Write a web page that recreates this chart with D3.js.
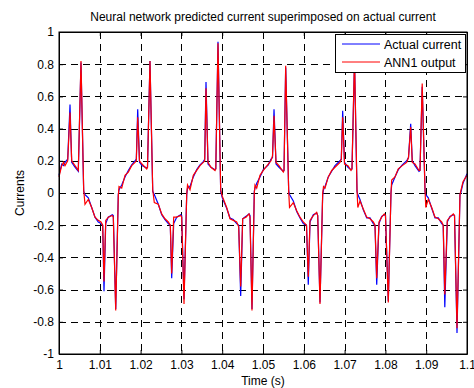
<!DOCTYPE html>
<html>
<head>
<meta charset="utf-8">
<script src="https://cdn.jsdelivr.net/npm/d3@7"></script>
<style>
  body { margin: 0; background: #fff; }
  svg text { font-family: "Liberation Sans", Arial, sans-serif; fill: #000; }
</style>
</head>
<body>
<svg id="chart" width="474" height="388"></svg>
<script>
// time (s), actual current, ANN1 output
const time = [
  1.00000, 1.00066, 1.00110, 1.00147, 1.00213, 1.00270, 1.00311, 1.00392, 1.00473, 1.00539,
  1.00605, 1.00637, 1.00718, 1.00801, 1.00882, 1.00963, 1.01029, 1.01071, 1.01103, 1.01145,
  1.01208, 1.01306, 1.01331, 1.01390, 1.01453,
  1.01471, 1.01537, 1.01618, 1.01699, 1.01782, 1.01863, 1.01895, 1.01929, 1.01973, 1.02034,
  1.02150, 1.02169, 1.02230, 1.02297, 1.02336, 1.02434, 1.02517, 1.02598, 1.02679, 1.02728,
  1.02762, 1.02811, 1.02885, 1.02983, 1.03007, 1.03064, 1.03130,
  1.03150, 1.03211, 1.03292, 1.03375, 1.03456, 1.03537, 1.03571, 1.03603, 1.03652, 1.03725,
  1.03824, 1.03843, 1.03897, 1.03963, 1.04002, 1.04110, 1.04191, 1.04272, 1.04355, 1.04404,
  1.04453, 1.04502, 1.04583, 1.04657, 1.04681, 1.04730, 1.04787,
  1.04804, 1.04846, 1.04926, 1.05007, 1.05130, 1.05196, 1.05233, 1.05270, 1.05319, 1.05392,
  1.05498, 1.05515, 1.05556, 1.05630, 1.05650, 1.05743, 1.05826, 1.05907, 1.05988, 1.06066,
  1.06110, 1.06152, 1.06233, 1.06316, 1.06341, 1.06397, 1.06463,
  1.06483, 1.06520, 1.06600, 1.06684, 1.06765, 1.06887, 1.06919, 1.06953, 1.06998, 1.07083,
  1.07157, 1.07181, 1.07243, 1.07304, 1.07324, 1.07377, 1.07458, 1.07542, 1.07623, 1.07704,
  1.07745, 1.07787, 1.07843, 1.07909, 1.07973, 1.08002, 1.08071, 1.08137,
  1.08154, 1.08235, 1.08316, 1.08414, 1.08522, 1.08566, 1.08620, 1.08659, 1.08725, 1.08824,
  1.08848, 1.08902, 1.08971, 1.08990, 1.09051, 1.09135, 1.09216, 1.09297, 1.09380, 1.09417,
  1.09456, 1.09517, 1.09583, 1.09664, 1.09694, 1.09755, 1.09828, 1.09846, 1.09902, 1.10000
];

const actualCurrent = [
  0.11, 0.18, 0.17, 0.19, 0.21, 0.55, 0.19, 0.16, 0.135, 0.81,
  0.01, -0.01, -0.03, -0.09, -0.15, -0.18, -0.19, -0.20, -0.61, -0.19,
  -0.15, -0.135, -0.14, -0.72, -0.01,
  0.02, 0.05, 0.10, 0.14, 0.175, 0.20, 0.21, 0.52, 0.19, 0.17,
  0.155, 0.16, 0.82, 0.01, -0.01, -0.07, -0.135, -0.165, -0.19, -0.20,
  -0.53, -0.19, -0.15, -0.135, -0.14, -0.66, -0.01,
  0.03, 0.04, 0.10, 0.145, 0.175, 0.195, 0.21, 0.69, 0.18, 0.16,
  0.145, 0.15, 0.94, 0.01, -0.03, -0.095, -0.155, -0.165, -0.19, -0.20,
  -0.64, -0.16, -0.145, -0.13, -0.14, -0.72, 0.01,
  0.03, 0.06, 0.10, 0.145, 0.175, 0.21, 0.22, 0.52, 0.18, 0.16,
  0.135, 0.14, 0.78, 0.01, -0.01, -0.05, -0.115, -0.155, -0.19, -0.20,
  -0.57, -0.18, -0.135, -0.125, -0.14, -0.68, -0.01,
  0.02, 0.04, 0.10, 0.135, 0.17, 0.20, 0.21, 0.51, 0.19, 0.16,
  0.145, 0.15, 0.82, 0.01, -0.01, -0.04, -0.105, -0.155, -0.155, -0.19,
  -0.20, -0.57, -0.19, -0.145, -0.135, -0.14, -0.67, 0.00,
  0.05, 0.10, 0.145, 0.175, 0.20, 0.22, 0.43, 0.20, 0.17, 0.135,
  0.14, 0.66, 0.01, -0.01, -0.03, -0.095, -0.155, -0.155, -0.19, -0.20,
  -0.71, -0.18, -0.145, -0.135, -0.14, -0.87, -0.01, 0.00, 0.06, 0.12
];

const annOutput = [
  0.10, 0.17, 0.19, 0.17, 0.20, 0.50, 0.20, 0.17, 0.14, 0.82,
  0.02, -0.07, -0.04, -0.09, -0.15, -0.17, -0.18, -0.20, -0.55, -0.17,
  -0.15, -0.14, -0.15, -0.73, -0.02,
  0.04, 0.03, 0.11, 0.13, 0.17, 0.19, 0.20, 0.47, 0.20, 0.18,
  0.15, 0.16, 0.82, 0.02, -0.06, -0.07, -0.13, -0.16, -0.18, -0.20,
  -0.50, -0.15, -0.15, -0.14, -0.15, -0.69, -0.01,
  0.05, 0.02, 0.11, 0.14, 0.17, 0.19, 0.20, 0.65, 0.19, 0.16,
  0.14, 0.15, 0.93, 0.02, -0.02, -0.09, -0.16, -0.17, -0.18, -0.21,
  -0.58, -0.16, -0.15, -0.13, -0.15, -0.73, 0.00,
  0.05, 0.03, 0.11, 0.14, 0.18, 0.20, 0.23, 0.48, 0.19, 0.17,
  0.13, 0.14, 0.79, 0.01, -0.09, -0.06, -0.11, -0.15, -0.18, -0.20,
  -0.52, -0.17, -0.14, -0.12, -0.14, -0.69, 0.00,
  0.04, 0.03, 0.10, 0.14, 0.16, 0.19, 0.21, 0.47, 0.18, 0.17,
  0.14, 0.15, 0.84, 0.02, -0.09, -0.05, -0.10, -0.15, -0.16, -0.18,
  -0.20, -0.53, -0.18, -0.15, -0.13, -0.14, -0.68, 0.00,
  0.08, 0.10, 0.15, 0.17, 0.19, 0.22, 0.41, 0.19, 0.18, 0.14,
  0.14, 0.68, 0.02, -0.09, -0.04, -0.09, -0.15, -0.16, -0.18, -0.20,
  -0.63, -0.17, -0.15, -0.13, -0.14, -0.84, -0.01, 0.01, 0.07, 0.11
];

const xTicks = [1, 1.01, 1.02, 1.03, 1.04, 1.05, 1.06, 1.07, 1.08, 1.09, 1.1];
const yTicks = [-1, -0.8, -0.6, -0.4, -0.2, 0, 0.2, 0.4, 0.6, 0.8, 1];
const seriesNames = ["Actual current", "ANN1 output"];
const seriesColors = ["#0000ff", "#ff0000"];

const margin = {top: 32, right: 7, bottom: 34, left: 59};
const width = 474, height = 388;
const svg = d3.select('#chart');

const x = d3.scaleLinear().domain([1, 1.1]).range([margin.left, width - margin.right]);
const y = d3.scaleLinear().domain([-1, 1]).range([height - margin.bottom, margin.top]);

// grid
const grid = svg.append('g')
  .attr('stroke', '#000')
  .attr('stroke-width', 1)
  .attr('stroke-dasharray', '7,5');
grid.selectAll('.vx')
  .data(xTicks.slice(1, -1))
  .join('line')
  .attr('x1', d => Math.round(x(d)) + 0.5)
  .attr('x2', d => Math.round(x(d)) + 0.5)
  .attr('y1', y(1))
  .attr('y2', y(-1));
grid.selectAll('.hy')
  .data(yTicks.slice(1, -1))
  .join('line')
  .attr('y1', d => Math.round(y(d)) + 0.5)
  .attr('y2', d => Math.round(y(d)) + 0.5)
  .attr('x1', x(1))
  .attr('x2', x(1.1));

// data lines
const points = time.map((t, i) => ({t, a: actualCurrent[i], n: annOutput[i]}));
const line = key => d3.line().x(d => x(d.t)).y(d => y(d[key]));

svg.append('path')
  .datum(points)
  .attr('fill', 'none')
  .attr('stroke', seriesColors[0])
  .attr('stroke-width', 1.2)
  .attr('d', line('a'));

svg.append('path')
  .datum(points)
  .attr('fill', 'none')
  .attr('stroke', seriesColors[1])
  .attr('stroke-width', 1.2)
  .attr('d', line('n'));

// axes (MATLAB box with inward ticks)
const fmt = d => String(d);
svg.append('g')
  .attr('transform', `translate(0,${y(-1)})`)
  .call(d3.axisBottom(x).tickValues(xTicks).tickFormat(fmt).tickSizeInner(-4).tickSizeOuter(0).tickPadding(6))
  .call(g => g.selectAll('text').attr('font-size', 12));
svg.append('g')
  .attr('transform', `translate(${x(1)},0)`)
  .call(d3.axisLeft(y).tickValues(yTicks).tickFormat(fmt).tickSizeInner(-4).tickSizeOuter(0).tickPadding(5))
  .call(g => g.selectAll('text').attr('font-size', 12));
svg.append('g')
  .attr('transform', `translate(0,${y(1)})`)
  .call(d3.axisTop(x).tickValues(xTicks).tickFormat('').tickSizeInner(-4).tickSizeOuter(0));
svg.append('g')
  .attr('transform', `translate(${x(1.1)},0)`)
  .call(d3.axisRight(y).tickValues(yTicks).tickFormat('').tickSizeInner(-4).tickSizeOuter(0));
svg.selectAll('.domain').attr('stroke', '#000');
svg.selectAll('.tick line').attr('stroke', '#000');

svg.append('rect')
  .attr('x', x(1)).attr('y', y(1))
  .attr('width', x(1.1) - x(1)).attr('height', y(-1) - y(1))
  .attr('fill', 'none').attr('stroke', '#000');

// title and labels
svg.append('text')
  .attr('x', (x(1) + x(1.1)) / 2).attr('y', 21)
  .attr('text-anchor', 'middle').attr('font-size', 12)
  .text('Neural network predicted current superimposed on actual current');
svg.append('text')
  .attr('x', (x(1) + x(1.1)) / 2).attr('y', 385)
  .attr('text-anchor', 'middle').attr('font-size', 12)
  .text('Time (s)');
svg.append('text')
  .attr('transform', `translate(24,${(y(1) + y(-1)) / 2}) rotate(-90)`)
  .attr('text-anchor', 'middle').attr('font-size', 12)
  .text('Currents');

// legend
const legend = svg.append('g').attr('transform', 'translate(335,34)');
legend.append('rect')
  .attr('x', 0.5).attr('y', 0.5).attr('width', 130).attr('height', 38)
  .attr('fill', '#fff').attr('stroke', '#000');
seriesNames.forEach((name, i) => {
  const ly = 10 + i * 18;
  legend.append('line')
    .attr('x1', 7).attr('x2', 45).attr('y1', ly).attr('y2', ly)
    .attr('stroke', seriesColors[i]).attr('stroke-width', 1);
  legend.append('text')
    .attr('x', 49).attr('y', ly + 4.5).attr('font-size', 12.5)
    .text(name);
});
</script>
</body>
</html>
